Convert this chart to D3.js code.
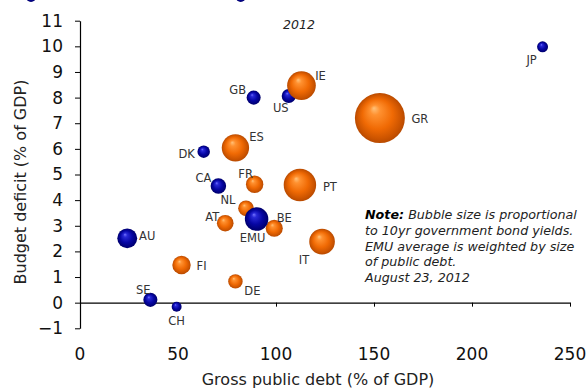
<!DOCTYPE html>
<html>
<head>
<meta charset="utf-8">
<script src="https://cdn.jsdelivr.net/npm/d3@7"></script>
<style>
  html, body { margin: 0; padding: 0; background: #fff; }
  svg { display: block; font-family: "DejaVu Sans", Verdana, sans-serif; }
</style>
</head>
<body>
<svg id="chart" width="588" height="389"></svg>
<script>
// ---- data ----
const countries = ["JP","IE","GR","PT","GB","US","ES","DK","CA","FR","NL","AT","EMU","BE","IT","AU","FI","DE","SE","CH"];
const debt      = [236, 113, 153, 112.2, 88.6, 106.5, 79.3, 63.1, 70.6, 89.1, 84.7, 74.1, 90.1, 99.1, 123.5, 24.1, 51.8, 79.3, 35.9, 49.3];
const deficit   = [9.98, 8.47, 7.2, 4.59, 8.0, 8.06, 6.04, 5.89, 4.55, 4.62, 3.68, 3.1, 3.26, 2.9, 2.38, 2.51, 1.47, 0.83, 0.11, -0.16];
const bubbleSize= [1.15, 7.9, 24.0, 10.1, 1.9, 1.9, 7.2, 1.5, 2.3, 2.9, 2.35, 2.65, 5.3, 2.8, 6.3, 3.8, 3.25, 2.0, 1.9, 0.95];
const group     = ["other","emu","emu","emu","other","other","emu","other","other","emu","emu","emu","aggregate","emu","emu","other","emu","emu","other","other"];
const xTicks = [0, 50, 100, 150, 200, 250];
const yTicks = [-1, 0, 1, 2, 3, 4, 5, 6, 7, 8, 9, 10, 11];
const yearLabel = "2012";
const xTitle = "Gross public debt (% of GDP)";
const yTitle = "Budget deficit (% of GDP)";
const noteLines = ["Bubble size is proportional", "to 10yr government bond yields.", "EMU average is weighted by size", "of public debt.", "August 23, 2012"];
const topMarkers = [-25, 82]; // debt-axis positions of the cut-off markers at the top edge

// ---- layout (label offsets in px, relative to bubble centre) ----
const labelOffset = {
  JP:[-11,13], IE:[19,-10], GR:[40,1], PT:[30,2], GB:[-16,-8], US:[-8,12], ES:[21,-11],
  DK:[-17,2], CA:[-15,-8], FR:[-9,-10], NL:[-18,-8], AT:[-13,-6], EMU:[-4,19], BE:[10,-10],
  IT:[-18,18], AU:[20,-2], FI:[20,1], DE:[17,9], SE:[-7,-10], CH:[0,14]
};

const svg = d3.select("#chart");
const x = d3.scaleLinear().domain([0, 250]).range([80, 570]);
const y = d3.scaleLinear().domain([-1, 11]).range([328.3, 20.7]);
const r = d3.scaleSqrt().domain([0, 24]).range([0, 25]);

// gradients
const defs = svg.append("defs");
function sphere(id, stops) {
  const g = defs.append("radialGradient").attr("id", id)
    .attr("cx", "50%").attr("cy", "50%").attr("r", "50%").attr("fx", "38%").attr("fy", "30%");
  stops.forEach(s => g.append("stop").attr("offset", s[0]).attr("stop-color", s[1]));
}
sphere("orange", [[0, "#ffc27a"], [0.2, "#ff9130"], [0.6, "#f06a04"], [0.88, "#cc5400"], [1, "#b84a00"]]);
sphere("blue", [[0, "#7474ff"], [0.2, "#2828d6"], [0.6, "#0606a4"], [0.9, "#00007a"], [1, "#00006a"]]);

// y axis
const yAxis = svg.append("g").attr("transform", "translate(80,0)")
  .call(d3.axisLeft(y).tickValues(yTicks).tickSize(5).tickSizeOuter(0).tickPadding(12).tickFormat(d3.format("d")));
yAxis.select(".domain").attr("stroke", "#000").attr("stroke-width", 1.2);
yAxis.selectAll(".tick line").attr("stroke", "#000");
yAxis.selectAll(".tick text").attr("font-size", 17).attr("font-family", "DejaVu Sans, sans-serif").attr("fill", "#111");

// x axis line at y=0
const xAxis = svg.append("g").attr("transform", `translate(0,${y(0)})`)
  .call(d3.axisBottom(x).tickValues(xTicks).tickSize(4).tickSizeOuter(0).tickFormat(""));
xAxis.select(".domain").attr("stroke", "#000").attr("stroke-width", 1.2);
xAxis.selectAll(".tick line").attr("stroke", "#000");
// x tick labels at the bottom
svg.append("g").selectAll("text").data(xTicks).join("text")
  .attr("x", d => x(d)).attr("y", 359.5)
  .attr("text-anchor", "middle").attr("font-size", 17).attr("fill", "#111")
  .text(d => d);

// titles
svg.append("text").attr("x", 318).attr("y", 384.5).attr("text-anchor", "middle")
  .attr("font-size", 16).attr("fill", "#222").text(xTitle);
svg.append("text").attr("transform", "translate(26,182) rotate(-90)").attr("text-anchor", "middle")
  .attr("font-size", 16).attr("fill", "#222").text(yTitle);
svg.append("text").attr("x", 299).attr("y", 29).attr("text-anchor", "middle")
  .attr("font-size", 12.5).attr("font-style", "italic").attr("fill", "#222").text(yearLabel);

// cut-off markers at the top edge
svg.append("g").selectAll("circle").data(topMarkers).join("circle")
  .attr("cx", d => x(d)).attr("cy", -3).attr("r", 5).attr("fill", "url(#blue)");

// bubbles
const data = countries.map((c, i) => ({ c, x: debt[i], y: deficit[i], s: bubbleSize[i], g: group[i] }));
const order = { other: 0, emu: 1, aggregate: 2 };
const drawn = data.slice().sort((a, b) => order[a.g] - order[b.g]);
svg.append("g").selectAll("circle").data(drawn).join("circle")
  .attr("cx", d => x(d.x)).attr("cy", d => y(d.y)).attr("r", d => r(d.s))
  .attr("fill", d => d.g === "emu" ? "url(#orange)" : "url(#blue)");

// labels
svg.append("g").selectAll("text").data(data).join("text")
  .attr("x", d => x(d.x) + labelOffset[d.c][0])
  .attr("y", d => y(d.y) + labelOffset[d.c][1])
  .attr("dy", "0.36em").attr("text-anchor", "middle")
  .attr("font-size", 11.5).attr("fill", "#333").text(d => d.c);

// note
const note = svg.append("text").attr("font-size", 12.7).attr("font-style", "italic").attr("fill", "#222");
noteLines.forEach((line, i) => {
  const t = note.append("tspan").attr("x", 365).attr("y", 219 + i * 15.8);
  if (i === 0) {
    t.append("tspan").attr("font-weight", "bold").attr("fill", "#000").text("Note:");
    t.append("tspan").text(" " + line);
  } else {
    t.text(line);
  }
});
</script>
</body>
</html>
